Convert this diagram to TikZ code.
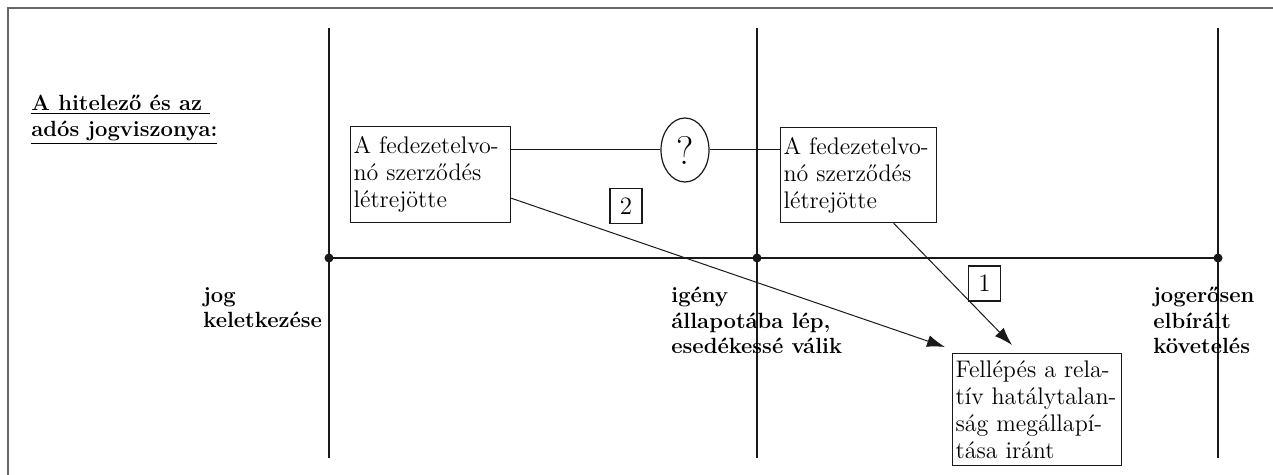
\documentclass[tikz,border=0pt]{standalone}
\usepackage{fontspec}
\usetikzlibrary{shapes.geometric,arrows.meta,calc}
\begin{document}
\begin{tikzpicture}[x=0.5pt,y=-0.5pt,
  frame/.style={draw=black!60, line width=1pt},
  axis/.style={draw=black!90, line width=0.7pt},
  ebox/.style={draw=black!90, line width=0.6pt, anchor=north west, align=left,
    inner xsep=1.5pt, inner ysep=2pt, font=\fontsize{12}{13.5}\selectfont},
  lab/.style={anchor=north west, align=left, inner sep=0pt,
    font=\fontsize{11}{12.75}\selectfont\bfseries},
  numbox/.style={draw=black!90, line width=0.6pt, minimum width=16pt,
    minimum height=17.5pt, inner sep=0pt, font=\fontsize{12.5}{12.5}\selectfont},
  conn/.style={draw=black!90, line width=0.5pt},
  arr/.style={conn, -{Latex[length=9pt,width=6pt]}},
  dot/.style={circle, fill=black!90, inner sep=0pt, minimum size=4.5pt}]
\useasboundingbox (0,0) rectangle (1273,475);
% outer frame (cropped)
\coordinate (fbl) at (8,475);
\coordinate (ftl) at (8,8);
\coordinate (ftr) at (1273,8);
\draw[frame] (fbl) -- (ftl) -- (ftr);
% time axes
\coordinate (t1) at (329,28); \coordinate (b1) at (329,458);
\coordinate (t2) at (757,28); \coordinate (b2) at (757,458);
\coordinate (t3) at (1218,28); \coordinate (b3) at (1218,458);
\draw[axis] (t1) -- (b1);
\draw[axis] (t2) -- (b2);
\draw[axis] (t3) -- (b3);
\coordinate (h1) at (329,258); \coordinate (h3) at (1218,258);
\draw[axis] (h1) -- (h3);
\node[dot] (d1) at (329,258) {};
\node[dot] (d2) at (757,258) {};
\node[dot] (d3) at (1218,258) {};
% labels
\node[lab] (title) at (31,95) {\underline{A hitelező és az\ }\\\underline{adós jogviszonya:}};
\node[lab] (l1) at (203,287) {jog\\keletkezése};
\node[lab] (l2) at (671,287) {igény\\állapotába lép,\\esedékessé válik};
\node[lab] (l3) at (1153,287) {jogerősen\\elbírált\\követelés};
% boxes
\node[ebox, text width=77pt, minimum height=48pt] (A) at (350,126) {A fedezetelvo-\\nó szerződés\\létrejötte};
\node[ebox, text width=75pt, minimum height=47.5pt] (B) at (780,127) {A fedezetelvo-\\nó szerződés\\létrejötte};
\node[ebox, text width=81.5pt, minimum height=56pt] (C) at (952,353) {Fellépés a rela-\\tív hatálytalan-\\ság megállapí-\\tása iránt};
\node[ellipse, draw=black!90, line width=0.6pt, minimum width=24pt, minimum height=32pt,
  inner sep=0pt, font=\fontsize{20}{20}\selectfont] (Q) at (685,150) {?};
\node[numbox] (n2) at (626,206) {2};
\node[numbox] (n1) at (984.5,283.5) {1};
% connectors
\draw[conn] (Q.west -| A.east) -- (Q.west);
\draw[conn] (Q.east) -- (Q.east -| B.west);
\draw[arr] ($(A.south east)+(0,-25)$) -- ($(C.north west)+(-7,-6)$);
\draw[arr] ($(B.south)+(35,0)$) -- ($(C.north west)+(60,-8)$);
\end{tikzpicture}
\end{document}
